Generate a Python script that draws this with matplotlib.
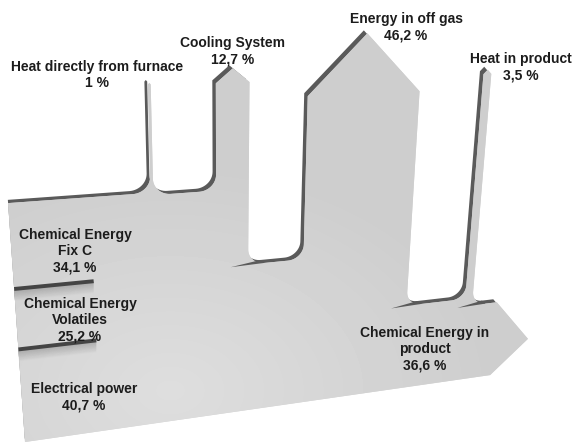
import numpy as np
import matplotlib
matplotlib.use('Agg')
import matplotlib.pyplot as plt
from matplotlib.patches import Polygon

plt.rcParams['font.family'] = ['Liberation Sans', 'DejaVu Sans']

# energy balance of the furnace, in percent of total input
input_labels = ['Chemical Energy\nFix C', 'Chemical Energy\nVolatiles', 'Electrical power']
input_values = [34.1, 25.2, 40.7]

branch_labels = ['Heat directly from furnace', 'Cooling System', 'Energy in off gas', 'Heat in product']
branch_values = [1.0, 12.7, 46.2, 3.5]

product_label = 'Chemical Energy in\nproduct'
product_value = 36.6

# layout of the flat diagram (units = percent of flow)
branch_start = [50.5, 75.3, 110.8, 184.5]   # where each branch leaves the band
branch_top = [142.0, 141.5, 135.0, 141.0]   # end of the straight part
branch_head = [0.6, 5.5, 24.0, 1.8]         # arrow head height
branch_notch = [0.0, 19.7, 0.0, 0.0]        # extra drop of the band edge behind a branch
band_end = 200.0
head_len = 17.5
head_tip = 0.44
radius = 6.5
divider_len = 28.5

# perspective used to lay the flat diagram onto the page (pixels)
vp_h = (3361.0, -38.0)
vp_v = (225.0, 3266.0)
origin = (25.0, 442.0)
su, sv = 8.1e-4, -7.8e-4

label_pos = {
    'Heat directly from furnace': (97, 75),
    'Cooling System': (233, 51.5),
    'Energy in off gas': (406, 27.5),
    'Heat in product': (521, 67),
    'Chemical Energy\nFix C': (75, 251),
    'Chemical Energy\nVolatiles': (80, 320),
    'Electrical power': (84, 397),
    product_label: (425, 349),
}

FACE = '#d4d4d4'
EDGE = '#5a5a5a'
TEXT = '#1c1c1c'
depth = np.array([-3.5, -3.0])


def project(pts):
    pts = np.asarray(pts, float)
    p = su * pts[:, 0]
    q = sv * pts[:, 1]
    w = 1 + p + q
    x = (p * vp_h[0] + q * vp_v[0] + origin[0]) / w
    y = (p * vp_h[1] + q * vp_v[1] + origin[1]) / w
    return np.column_stack([x, y])


def arc(cu, cv, r, a0, a1, n=16):
    t = np.radians(np.linspace(a0, a1, n))
    return list(zip(cu + r * np.cos(t), cv + r * np.sin(t)))


def build_outline():
    pts = [(0.0, 0.0), (0.0, 100.0)]
    remaining = 100.0
    floor = 100.0
    floors = []
    for u0, w, top, head, notch in zip(branch_start, branch_values, branch_top,
                                       branch_head, branch_notch):
        pts += arc(u0 - radius, floor + radius, radius, -90, 0)
        pts += [(u0, top), (u0 + w / 2, top + head), (u0 + w, top)]
        remaining -= w
        floor = remaining - notch
        pts += arc(u0 + w + radius, floor + radius, radius, 180, 270)
        floors.append((u0 + w, floor))
    pts += [(band_end, floor), (band_end + head_len, floor * head_tip), (band_end, 0.0)]
    return pts, floors


fig = plt.figure(figsize=(5.76, 4.43), dpi=100)
ax = fig.add_axes([0, 0, 1, 1])
ax.set_xlim(0, 576)
ax.set_ylim(443, 0)
ax.axis('off')

outline, floors = build_outline()
sheet = project(outline)

# thickness of the sheet, seen on its left and upper sides
ax.add_patch(Polygon(sheet + depth, closed=True, facecolor=EDGE, edgecolor='none', zorder=1))

# the left side of the sheet shows no thickness
left = project([(0, 0), (0, 100)])
k = (left[1, 0] - left[0, 0]) / (left[1, 1] - left[0, 1])
x_at = lambda y: left[0, 0] + k * (y - left[0, 1])
ax.add_patch(Polygon([(-10, -10), (x_at(-10), -10), (x_at(460), 460), (-10, 460)],
                     closed=True, facecolor='white', edgecolor='none', zorder=2))

# front face with soft shading
face = Polygon(sheet, closed=True, facecolor=FACE, edgecolor='none', zorder=3)
ax.add_patch(face)
yy, xx = np.mgrid[0:443, 0:576]
glow = np.clip(1 - np.hypot((xx - 170) / 330.0, (yy - 390) / 230.0), 0, 1)
shade = 0.805 + 0.065 * glow
im = ax.imshow(shade, cmap='gray', vmin=0, vmax=1, extent=(0, 576, 443, 0),
               zorder=4, interpolation='bilinear')
im.set_clip_path(face)

# dark slivers where the band edge tucks under a branch
for u_edge, floor in floors[1:]:
    tip = project([(u_edge - 7.0, floor)])[0] + np.array([0, 1.0])
    a = project([(u_edge + radius, floor)])[0]
    ax.add_patch(Polygon([tip, a + depth, a], closed=True, facecolor=EDGE,
                         edgecolor='none', zorder=5))

# dividers between the inputs on the left side
v = 100.0
for val in input_values[:-1]:
    v -= val
    seg = project([(0.0, v), (divider_len, v)])
    for off, alpha in zip(range(1, 12), np.linspace(0.10, 0.01, 11)):
        ax.plot(seg[:, 0], seg[:, 1] + off, color='black', alpha=alpha, lw=1.5,
                solid_capstyle='butt', zorder=5)
    ax.plot(seg[:, 0], seg[:, 1], color='#444444', lw=2.8, solid_capstyle='butt', zorder=6)

# labels
for name, val in zip(branch_labels, branch_values):
    x, y = label_pos[name]
    ax.text(x, y, f'{name}\n{val:g} %'.replace('.', ','), ha='center', va='center',
            fontsize=10, fontweight='bold', color=TEXT, zorder=10)
for name, val in zip(input_labels, input_values):
    x, y = label_pos[name]
    ax.text(x, y, f'{name}\n{val:g} %'.replace('.', ','), ha='center', va='center',
            fontsize=10, fontweight='bold', color=TEXT, zorder=10)
x, y = label_pos[product_label]
ax.text(x, y, f'{product_label}\n{product_value:g} %'.replace('.', ','), ha='center',
        va='center', fontsize=10, fontweight='bold', color=TEXT, zorder=10)

fig.savefig('out.png', dpi=100, facecolor='white')
